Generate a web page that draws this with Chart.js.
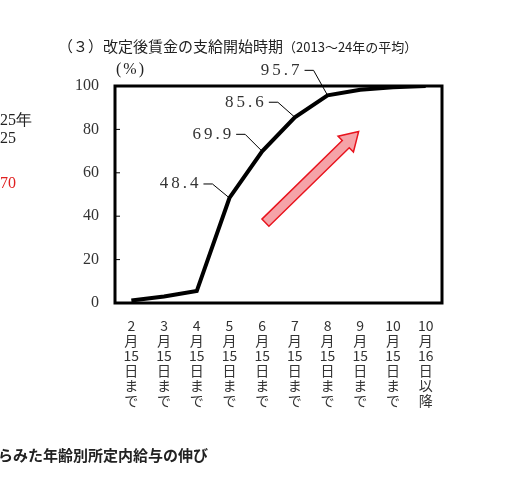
<!DOCTYPE html>
<html><head><meta charset="utf-8">
<script src="https://cdn.jsdelivr.net/npm/chart.js@4"></script>
<style>
body{margin:0;background:#fff;width:516px;height:494px;overflow:hidden;position:relative;font-family:"Noto Sans CJK JP";}
.t{position:absolute;white-space:nowrap;color:#222;}
</style></head><body>
<canvas id="c" width="516" height="494" style="position:absolute;left:0;top:0"></canvas>
<div class="t" style="left:58px;top:35px;font-size:15px;">（３）改定後賃金の支給開始時期<span style="font-size:13px">（2013～24年の平均）</span></div>
<div class="t" style="left:116px;top:60px;font-size:16px;font-family:'Liberation Serif';letter-spacing:2px">(%)</div>
<div class="t" style="left:0px;top:110px;font-size:16px;font-family:'Liberation Serif'">25年</div>
<div class="t" style="left:0px;top:129px;font-size:16px;font-family:'Liberation Serif'">25</div>
<div class="t" style="left:0px;top:174px;font-size:16px;font-family:'Liberation Serif';color:#e02020">70</div>
<div class="t" style="left:-4px;top:330px;font-size:15px;">)</div>
<div class="t" style="left:-2px;top:444px;font-size:15px;font-weight:bold">らみた年齢別所定内給与の伸び</div>
<script>
const categories=[["2","月","15","日","ま","で"],["3","月","15","日","ま","で"],["4","月","15","日","ま","で"],["5","月","15","日","ま","で"],["6","月","15","日","ま","で"],["7","月","15","日","ま","で"],["8","月","15","日","ま","で"],["9","月","15","日","ま","で"],["10","月","15","日","ま","で"],["10","月","16","日","以","降"]];
const values=[1.2,3,5.5,48.4,69.9,85.6,95.7,98.3,99.4,100];
const labelIdx=[3,4,5,6];
const labelText=["48.4","69.9","85.6","95.7"];
const yTicks=[0,20,40,60,80,100];

const deco={id:'deco',afterDatasetsDraw(ch){
  const c=ch.ctx,a=ch.chartArea,x=ch.scales.x,y=ch.scales.y;
  c.save();
  c.strokeStyle='#000';c.lineWidth=3;c.strokeRect(a.left,a.top,a.right-a.left,a.bottom-a.top);
  c.lineWidth=1;
  yTicks.forEach(v=>{const py=y.getPixelForValue(v);c.beginPath();c.moveTo(a.left,py);c.lineTo(a.left+5,py);c.stroke();});
  c.font='17px "Liberation Serif"';c.fillStyle='#333';c.textBaseline='middle';c.textAlign='right';
  if('letterSpacing' in c) c.letterSpacing='3px';
  const offs=[[-26,-14],[-26,-17],[-26,-15],[-23,-25]];
  labelIdx.forEach((i,k)=>{
    const px=x.getPixelForValue(i),py=y.getPixelForValue(values[i]);
    const ex=px+offs[k][0],ey=py+offs[k][1];
    c.beginPath();c.moveTo(px,py);c.lineTo(ex+9,ey);c.lineTo(ex,ey);c.stroke();
    c.fillText(labelText[k],ex-2,ey);
  });
  if('letterSpacing' in c) c.letterSpacing='0px';
  const x0=x.getPixelForValue(4.1),y0=y.getPixelForValue(37),x1=x.getPixelForValue(6.95),y1=y.getPixelForValue(79);
  const ang=Math.atan2(y1-y0,x1-x0),L=Math.hypot(x1-x0,y1-y0);
  c.translate(x0,y0);c.rotate(ang);
  c.beginPath();c.moveTo(0,-5);c.lineTo(L-18,-5);c.lineTo(L-18,-11);c.lineTo(L,0);c.lineTo(L-18,11);c.lineTo(L-18,5);c.lineTo(0,5);c.closePath();
  c.fillStyle='#f5a3a8';c.fill();c.strokeStyle='#e8141e';c.lineWidth=1.5;c.stroke();
  c.restore();
}};

new Chart(document.getElementById('c'),{type:'line',
data:{labels:categories,datasets:[{data:values,borderColor:'#000',borderWidth:4,pointRadius:0,tension:0,fill:false}]},
options:{responsive:false,animation:false,
layout:{padding:{left:60,right:74,top:86,bottom:0}},
plugins:{legend:{display:false},tooltip:{enabled:false}},
scales:{
 x:{offset:true,grid:{display:false},border:{display:false},afterFit:s=>{s.height=191;},
   ticks:{color:'#333',font:{family:'"Noto Sans CJK JP"',size:14,lineHeight:1.08},maxRotation:0,autoSkip:false,padding:7}},
 y:{min:0,max:100,afterFit:s=>{s.width=55;},afterBuildTicks:s=>{s.ticks=yTicks.map(v=>({value:v}));},
   grid:{display:false},border:{display:false},
   ticks:{color:'#333',font:{family:'"Liberation Serif"',size:16},padding:8}}
}},plugins:[deco]});
</script></body></html>
